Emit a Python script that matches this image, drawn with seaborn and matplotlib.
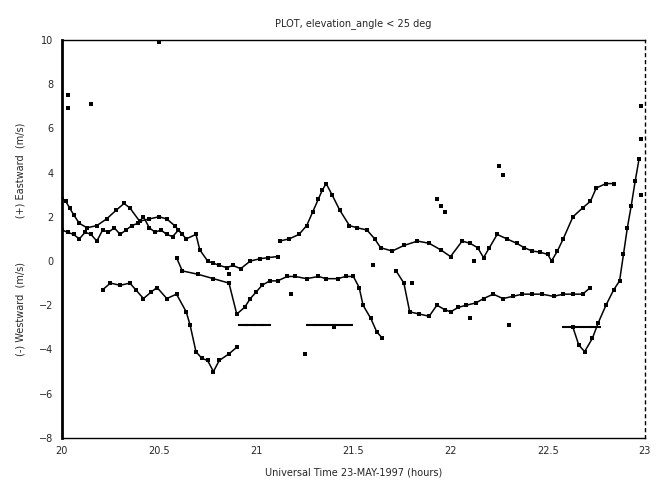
import numpy as np
import pandas as pd
import matplotlib
matplotlib.use("Agg")
import matplotlib.pyplot as plt
import seaborn as sns

# Data (UT hours, velocity)
s1_t = [20.00, 20.03, 20.06, 20.09, 20.12, 20.15, 20.18, 20.21, 20.24, 20.27, 20.30, 20.33,
        20.36, 20.39, 20.42, 20.45, 20.48, 20.51, 20.54, 20.57, 20.60, 20.64, 20.69, 20.71,
        20.75, 20.78, 20.81, 20.85, 20.88, 20.92, 20.97, 21.02, 21.06, 21.11]
s1_v = [1.4, 1.3, 1.2, 1.0, 1.3, 1.2, 0.9, 1.4, 1.3, 1.5, 1.2, 1.4,
        1.6, 1.7, 2.0, 1.5, 1.3, 1.4, 1.2, 1.1, 1.4, 1.0, 1.2, 0.5,
        0.0, -0.1, -0.2, -0.3, -0.2, -0.35, 0.0, 0.1, 0.15, 0.2]

s2_t = [21.12, 21.17, 21.22, 21.26, 21.29, 21.32, 21.34, 21.36, 21.39, 21.43, 21.48, 21.52,
        21.57, 21.61, 21.64, 21.70, 21.76, 21.83, 21.89, 21.95, 22.00, 22.06, 22.10, 22.14,
        22.17, 22.20, 22.24, 22.29, 22.34, 22.38, 22.42, 22.46, 22.50, 22.52, 22.55, 22.58,
        22.63, 22.68, 22.72, 22.75, 22.80, 22.84]
s2_v = [0.9, 1.0, 1.2, 1.6, 2.2, 2.8, 3.2, 3.5, 3.0, 2.3, 1.6, 1.5,
        1.4, 1.0, 0.6, 0.45, 0.7, 0.9, 0.8, 0.5, 0.2, 0.9, 0.8, 0.6,
        0.15, 0.6, 1.2, 1.0, 0.8, 0.6, 0.45, 0.4, 0.3, 0.0, 0.45, 1.0,
        2.0, 2.4, 2.7, 3.3, 3.5, 3.5]

s3_t = [20.00, 20.02, 20.04, 20.06, 20.09, 20.13, 20.18, 20.23, 20.28, 20.32, 20.35, 20.40,
        20.45, 20.50, 20.54, 20.58, 20.62]
s3_v = [2.8, 2.7, 2.4, 2.1, 1.7, 1.5, 1.6, 1.9, 2.3, 2.6, 2.4, 1.8,
        1.9, 2.0, 1.9, 1.6, 1.2]

s4_t = [20.21, 20.25, 20.30, 20.35, 20.38, 20.42, 20.46, 20.49, 20.54, 20.59, 20.64, 20.66,
        20.69, 20.72, 20.75, 20.78, 20.81, 20.86, 20.90]
s4_v = [-1.3, -1.0, -1.1, -1.0, -1.3, -1.7, -1.4, -1.2, -1.7, -1.5, -2.3, -2.9,
        -4.1, -4.4, -4.5, -5.0, -4.5, -4.2, -3.9]

s5_t = [20.59, 20.62, 20.70, 20.78, 20.86, 20.90, 20.94, 20.97, 21.00, 21.03, 21.07, 21.11,
        21.16, 21.20, 21.26, 21.32, 21.36, 21.42, 21.46, 21.50, 21.53, 21.55, 21.59, 21.62,
        21.65]
s5_v = [0.15, -0.45, -0.6, -0.8, -1.0, -2.4, -2.1, -1.7, -1.4, -1.1, -0.9, -0.9,
        -0.7, -0.7, -0.8, -0.7, -0.8, -0.8, -0.7, -0.7, -1.2, -2.0, -2.6, -3.2,
        -3.5]

s6_t = [21.72, 21.76, 21.79, 21.84, 21.89, 21.93, 21.97, 22.00, 22.04, 22.08, 22.13, 22.17,
        22.22, 22.27, 22.32, 22.37, 22.42, 22.47, 22.53, 22.58, 22.63, 22.68, 22.72]
s6_v = [-0.45, -1.0, -2.3, -2.4, -2.5, -2.0, -2.2, -2.3, -2.1, -2.0, -1.9, -1.7,
        -1.5, -1.7, -1.6, -1.5, -1.5, -1.5, -1.6, -1.5, -1.5, -1.5, -1.2]

s7_t = [22.63, 22.66, 22.69, 22.73, 22.76, 22.80, 22.84, 22.87, 22.89, 22.91, 22.93, 22.95,
        22.97]
s7_v = [-3.0, -3.8, -4.1, -3.5, -2.8, -2.0, -1.3, -0.9, 0.3, 1.5, 2.5, 3.6,
        4.6]

# flat stretches and stray points
s8_t = [20.93, 20.97, 21.01, 21.05, 21.28, 21.33, 21.38, 21.42, 21.47, 22.60, 22.65, 22.70, 22.75]
s8_v = [-2.9, -2.9, -2.9, -2.9, -2.9, -2.9, -2.9, -2.9, -2.9, -3.0, -3.0, -3.0, -3.0]

pts_t = [20.03, 20.03, 20.15, 20.50, 21.93, 21.95, 21.97, 22.25, 22.27, 20.86, 21.25, 21.40,
         21.80, 22.10, 22.30, 22.98, 22.98, 22.98, 21.18, 21.60, 22.12]
pts_v = [7.5, 6.9, 7.1, 9.9, 2.8, 2.5, 2.2, 4.3, 3.9, -0.6, -4.2, -3.0,
         -1.0, -2.6, -2.9, 7.0, 5.5, 3.0, -1.5, -0.2, 0.0]

series = {"s1": (s1_t, s1_v), "s2": (s2_t, s2_v), "s3": (s3_t, s3_v), "s4": (s4_t, s4_v),
          "s5": (s5_t, s5_v), "s6": (s6_t, s6_v), "s7": (s7_t, s7_v), "s8": (s8_t, s8_v)}

sns.set_style("white")
plt.rcParams["font.family"] = ["DejaVu Sans"]

fig = plt.figure(figsize=(6.58, 4.92), dpi=100)
ax = fig.add_axes([0.094, 0.110, 0.886, 0.809])

for name, (t, v) in series.items():
    df = pd.DataFrame({"t": t, "v": v})
    if name == "s8":
        # flat pieces, drawn as short dashes without joining the gaps
        sns.scatterplot(data=df, x="t", y="v", ax=ax, color="black", marker="_", s=60,
                        linewidth=1.5, legend=False)
    else:
        sns.lineplot(data=df, x="t", y="v", ax=ax, color="black", sort=False,
                     estimator=None, linewidth=1.1, marker="s", markersize=3.5,
                     markeredgewidth=0, legend=False)

sns.scatterplot(x=pts_t, y=pts_v, ax=ax, color="black", s=7, marker="s", linewidth=0, legend=False)

ax.set_xlim(20, 23)
ax.set_ylim(-8, 10)
ax.set_xticks([20, 20.5, 21, 21.5, 22, 22.5, 23])
ax.set_xticklabels(["20", "20.5", "21", "21.5", "22", "22.5", "23"])
ax.set_yticks([10, 8, 6, 4, 2, 0, -2, -4, -6, -8])
ax.tick_params(direction="in", length=3, labelsize=7, pad=6)

for side in ["top", "bottom", "right"]:
    ax.spines[side].set_linewidth(1.0)
    ax.spines[side].set_color("black")
ax.spines["right"].set_linestyle((0, (2, 3)))
ax.spines["left"].set_linewidth(2.0)
ax.spines["left"].set_color("black")

ax.set_xlabel("Universal Time 23-MAY-1997 (hours)", fontsize=7, labelpad=8)
ax.set_ylabel("(-) Westward  (m/s)              (+) Eastward  (m/s)", fontsize=7, labelpad=10)
ax.set_title("PLOT, elevation_angle < 25 deg", fontsize=7, pad=10)

fig.savefig("out.png", dpi=100)
